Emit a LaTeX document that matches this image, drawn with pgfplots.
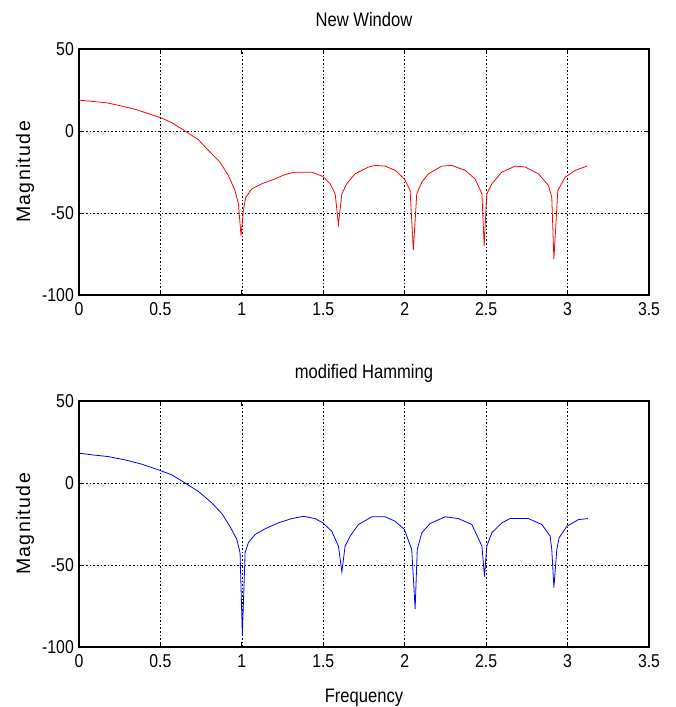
\documentclass[border=0pt]{standalone}
\usepackage{fontspec}
\setmainfont[FakeStretch=0.85]{Liberation Sans}
\newfontfamily\ylabfont[LetterSpace=7]{Liberation Sans}
\usepackage{pgfplots}
\pgfplotsset{compat=1.18}

\pgfplotsset{
  matlab/.style={
    scale only axis, width=570pt, height=246pt,
    xmin=0, xmax=3.5, ymin=-100, ymax=50,
    xtick={0,0.5,1,1.5,2,2.5,3,3.5},
    xticklabels={0,0.5,1,1.5,2,2.5,3,3.5},
    ytick={-100,-50,0,50},
    yticklabels={-100,-50,0,50},
    tick align=inside, tick pos=both, major tick length=5pt,
    tick style={black, line width=0.8pt},
    axis line style={black, line width=1.3pt},
    grid=major,
    major grid style={black, line width=0.6pt, dash pattern=on 1.6pt off 2pt},
    ticklabel style={font=\fontsize{18.6}{22}\selectfont},
    xticklabel style={inner sep=2pt, yshift=-5pt},
    yticklabel style={inner sep=2pt, xshift=-3pt},
    title style={at={(0.5,1)}, anchor=base, yshift=17pt,
                 font=\fontsize{19.5}{23}\selectfont},
    ylabel style={at={(0,0.5)}, anchor=center, yshift=54pt,
                  font=\ylabfont\fontsize{19.5}{23}\selectfont},
    xlabel style={at={(0.5,0)}, anchor=base, yshift=-55pt,
                  font=\fontsize{19.5}{23}\selectfont},
  }
}

\begin{document}
\begin{tikzpicture}
\useasboundingbox (-79pt,49pt) rectangle (596pt,-658pt);

% New Window
\begin{axis}[matlab, at={(0pt,0pt)}, anchor=north west,
  title={New Window}, ylabel={Magnitude}]
\addplot[red, line width=0.8pt] coordinates {
(0,18.8) (0.068,18.2) (0.17,17.2) (0.24,15.7) (0.344,13.3) (0.426,10.6)
(0.5,8.2) (0.569,5.1) (0.651,0) (0.733,-5.3) (0.794,-11.8) (0.866,-19)
(0.917,-27.1) (0.958,-36.3) (0.979,-44.5) (0.995,-63.9) (1.009,-48.6)
(1.024,-40.4) (1.061,-35.3) (1.122,-32.2) (1.204,-29.2) (1.265,-26.5)
(1.327,-25.1) (1.43,-25.1) (1.497,-27.7) (1.542,-32.2) (1.573,-38.3)
(1.593,-57.1) (1.614,-38.3) (1.644,-32.2) (1.695,-26.1) (1.777,-22)
(1.818,-21) (1.88,-21.4) (1.941,-24) (1.998,-29.2) (2.033,-36.3)
(2.053,-72.4) (2.074,-38.3) (2.105,-31.2) (2.146,-26.1) (2.228,-21.4)
(2.289,-21) (2.371,-24) (2.432,-29.2) (2.474,-38.3) (2.488,-70)
(2.504,-38.3) (2.535,-32.2) (2.596,-25.1) (2.678,-21.4) (2.74,-22)
(2.821,-26.1) (2.883,-33.3) (2.903,-40.4) (2.916,-78.1) (2.94,-36.3)
(2.985,-28.2) (3.047,-24) (3.119,-21.4)
};
\end{axis}

% modified Hamming
\begin{axis}[matlab, at={(0pt,-352pt)}, anchor=north west,
  title={modified Hamming}, ylabel={Magnitude}, xlabel={Frequency}]
\addplot[blue, line width=0.8pt] coordinates {
(0,18.2) (0.078,17.2) (0.18,16.1) (0.283,14.1) (0.385,11.5) (0.5,7.6)
(0.569,5) (0.651,0) (0.733,-5.1) (0.815,-12.1) (0.877,-18.6) (0.928,-26.7)
(0.969,-34.4) (0.989,-42.5) (1.003,-92.7) (1.02,-42.5) (1.04,-36.4)
(1.081,-31.4) (1.143,-27.9) (1.224,-24.3) (1.306,-21.7) (1.378,-20.3)
(1.45,-21.7) (1.497,-24.3) (1.552,-29.4) (1.593,-38.5) (1.614,-54.2)
(1.634,-38.5) (1.665,-32.4) (1.716,-25.3) (1.798,-20.6) (1.88,-20.6)
(1.941,-23.3) (1.998,-28.3) (2.043,-40.5) (2.064,-76.7) (2.077,-40.5)
(2.105,-30.3) (2.156,-24.7) (2.248,-20.6) (2.33,-21.7) (2.412,-25.3)
(2.474,-38.5) (2.49,-57) (2.504,-38.5) (2.535,-30.3) (2.596,-24.3)
(2.647,-21.7) (2.76,-21.7) (2.842,-25.3) (2.893,-32.4) (2.903,-40.5)
(2.916,-63.7) (2.934,-40.5) (2.948,-33.4) (2.996,-26.3) (3.067,-22.3)
(3.124,-21.7)
};
\end{axis}
\end{tikzpicture}
\end{document}
